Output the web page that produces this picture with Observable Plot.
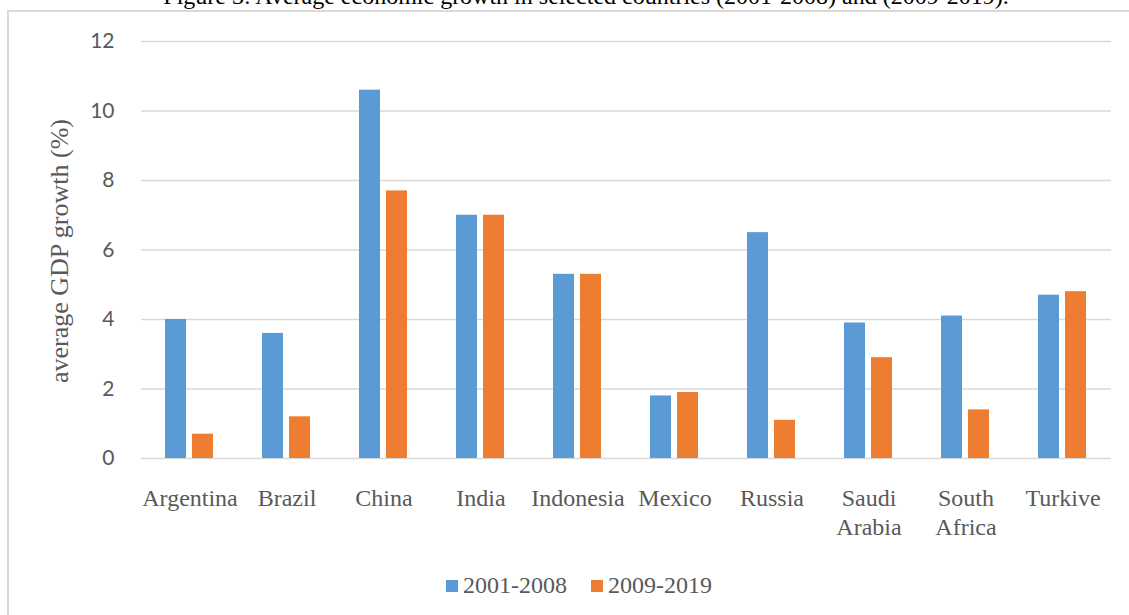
<!DOCTYPE html>
<html>
<head>
<meta charset="utf-8">
<script src="https://cdn.jsdelivr.net/npm/d3@7"></script>
<script src="https://cdn.jsdelivr.net/npm/@observablehq/plot@0.6"></script>
<style>
  html, body { margin: 0; padding: 0; background: #fff; }
  #wrap { position: relative; width: 1129px; height: 615px; overflow: hidden; background: #fff; }
  #frame { position: absolute; left: 7px; top: 10px; width: 1200px; height: 700px; border: 2px solid #d9d9d9; box-sizing: border-box; }
  #title { position: absolute; left: 0; width: 1172px; top: -17px; text-align: center; font-family: "Liberation Serif", "Times New Roman", serif; font-size: 24px; color: #000; white-space: nowrap; }
  #chart { position: absolute; left: 0; top: 0; }
  #ylabel { position: absolute; left: 60px; top: 251px; transform: translate(-50%, -50%) rotate(-90deg); font-family: "Liberation Serif", "Times New Roman", serif; font-size: 26px; color: #595959; white-space: nowrap; }
  #legend { position: absolute; left: 0; width: 1158px; top: 572px; display: flex; justify-content: center; gap: 24px; font-family: "Liberation Serif", "Times New Roman", serif; font-size: 24px; color: #595959; }
  #legend .item { display: flex; align-items: center; gap: 5px; }
  #legend .sw { width: 12px; height: 12px; display: inline-block; }
</style>
</head>
<body>
<div id="wrap">
  <div id="frame"></div>
  <div id="title">Figure 3: Average economic growth in selected countries (2001-2008) and (2009-2019).</div>
  <div id="chart"></div>
  <div id="ylabel">average GDP growth (%)</div>
  <div id="legend"></div>
</div>
<script>
const countries = ["Argentina", "Brazil", "China", "India", "Indonesia", "Mexico", "Russia", "Saudi Arabia", "South Africa", "Turkive"];
const countryLabels = ["Argentina", "Brazil", "China", "India", "Indonesia", "Mexico", "Russia", "Saudi\nArabia", "South\nAfrica", "Turkive"];
const periods = ["2001-2008", "2009-2019"];
const growth2001_2008 = [4.0, 3.6, 10.6, 7.0, 5.3, 1.8, 6.5, 3.9, 4.1, 4.7];
const growth2009_2019 = [0.7, 1.2, 7.7, 7.0, 5.3, 1.9, 1.1, 2.9, 1.4, 4.8];
const yTicks = [0, 2, 4, 6, 8, 10, 12];
const colors = ["#5B9BD5", "#ED7D31"];

const data = [];
countries.forEach((c, i) => {
  data.push({country: c, period: periods[0], value: growth2001_2008[i]});
  data.push({country: c, period: periods[1], value: growth2009_2019[i]});
});
const labelOf = new Map(countries.map((c, i) => [c, countryLabels[i]]));

const chart = Plot.plot({
  width: 1129,
  height: 545,
  marginLeft: 140,
  marginRight: 17,
  marginTop: 41,
  marginBottom: 87,
  style: {background: "transparent", overflow: "visible"},
  fx: {domain: countries, padding: 0, label: null},
  x: {domain: periods, paddingInner: 0.22, paddingOuter: 0.88, axis: null},
  y: {domain: [0, 12], label: null},
  color: {domain: periods, range: colors},
  marks: [
    Plot.gridY(yTicks, {stroke: "#d9d9d9", strokeOpacity: 1, strokeWidth: 1.5}),
    Plot.barY(data, {fx: "country", x: "period", y: "value", fill: "period"}),
    Plot.axisY(yTicks, {tickSize: 0, tickPadding: 27, label: null, fontFamily: "Lato, 'Open Sans', sans-serif", fontSize: 21, color: "#595959"}),
    Plot.axisFx({anchor: "bottom", tickSize: 0, tickPadding: 28, label: null, tickFormat: d => labelOf.get(d), lineHeight: 1.17, fontFamily: "'Liberation Serif', 'Times New Roman', serif", fontSize: 24, color: "#595959"})
  ]
});
document.getElementById("chart").appendChild(chart);

const legend = document.getElementById("legend");
periods.forEach((p, i) => {
  const item = document.createElement("div");
  item.className = "item";
  const sw = document.createElement("span");
  sw.className = "sw";
  sw.style.background = colors[i];
  const t = document.createElement("span");
  t.textContent = p;
  item.appendChild(sw);
  item.appendChild(t);
  legend.appendChild(item);
});
</script>
</body>
</html>
